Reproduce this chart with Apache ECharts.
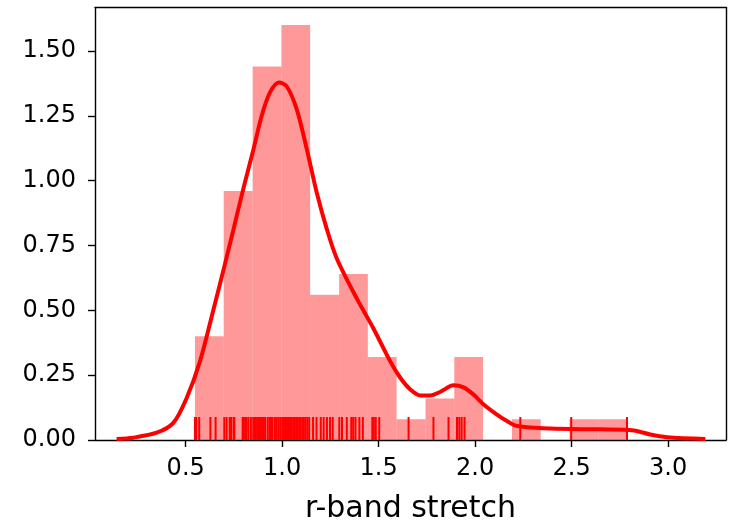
<!DOCTYPE html>
<html>
<head>
<meta charset="utf-8">
<script src="https://cdn.jsdelivr.net/npm/echarts@6/dist/echarts.min.js"></script>
<style>
html,body{margin:0;padding:0;background:#fff;overflow:hidden;}
#chart{width:732px;height:529px;}
</style>
</head>
<body>
<div id="chart"></div>
<script>
// Histogram bin edges (r-band stretch) and density heights
const binEdges = [0.548, 0.697, 0.847, 0.996, 1.145, 1.295, 1.444, 1.593, 1.743, 1.892, 2.041, 2.191, 2.340, 2.489, 2.639, 2.788];
const binDensity = [0.40, 0.96, 1.44, 1.60, 0.56, 0.64, 0.32, 0.08, 0.16, 0.32, 0.00, 0.08, 0.00, 0.08, 0.08];

// KDE curve: x values and density values
const kdeX = [0.142, 0.228, 0.350, 0.436, 0.505, 0.574, 0.643, 0.704, 0.747, 0.799, 0.851, 0.894, 0.937, 0.984, 1.024, 1.076, 1.128, 1.179, 1.231, 1.283, 1.387, 1.473, 1.560, 1.612, 1.664, 1.716, 1.768, 1.820, 1.888, 1.940, 1.992, 2.044, 2.113, 2.165, 2.217, 2.390, 2.649, 2.822, 2.908, 2.995, 3.193];
const kdeY = [0.004, 0.009, 0.028, 0.066, 0.162, 0.303, 0.500, 0.680, 0.810, 0.970, 1.120, 1.250, 1.340, 1.378, 1.363, 1.274, 1.120, 0.954, 0.814, 0.700, 0.545, 0.430, 0.303, 0.240, 0.195, 0.172, 0.172, 0.186, 0.211, 0.203, 0.175, 0.137, 0.098, 0.073, 0.054, 0.044, 0.041, 0.037, 0.021, 0.011, 0.004];

// Rug: individual observations
const rugValues = [
  0.548, 0.555, 0.570, 0.628, 0.655,
  0.700, 0.712, 0.728, 0.735, 0.748, 0.752, 0.795, 0.800, 0.808, 0.815, 0.825, 0.838,
  0.850, 0.856, 0.862, 0.870, 0.876, 0.884, 0.890, 0.897, 0.905, 0.912, 0.925, 0.935, 0.942, 0.950, 0.962, 0.970, 0.980, 0.990,
  1.000, 1.005, 1.012, 1.018, 1.024, 1.030, 1.036, 1.042, 1.050, 1.058, 1.066, 1.074, 1.080, 1.088, 1.095, 1.104, 1.112, 1.120, 1.130, 1.140,
  1.160, 1.178, 1.200, 1.215, 1.232, 1.248, 1.262,
  1.296, 1.310, 1.335, 1.358, 1.368, 1.380, 1.400, 1.418,
  1.467, 1.475, 1.485, 1.503,
  1.655,
  1.784, 1.862,
  1.906, 1.918, 1.930, 1.945,
  2.234,
  2.498,
  2.787
];

// Axis ticks
const xTicks = [0.5, 1.0, 1.5, 2.0, 2.5, 3.0];
const yTicks = [0, 0.25, 0.5, 0.75, 1.0, 1.25, 1.5];
const xLabel = 'r-band stretch';

const histData = binDensity.map((h, i) => [binEdges[i], binEdges[i + 1], h]);
const kdeData = kdeX.map((x, i) => [x, kdeY[i]]);
const rugData = rugValues.map(v => [v, 0]);

const FONT = 'DejaVu Sans';
const chart = echarts.init(document.getElementById('chart'), null, {renderer: 'canvas', width: 732, height: 529});

const axisLineStyle = {color: '#000', width: 1.4};
chart.setOption({
  animation: false,
  backgroundColor: '#fff',
  grid: {left: 95, top: 7.5, width: 631, height: 435, containLabel: false},
  xAxis: [{
    type: 'value', min: 0.03, max: 3.30,
    name: xLabel, nameLocation: 'middle', nameGap: 54,
    nameTextStyle: {fontFamily: FONT, fontSize: 30, color: '#000'},
    axisLine: {show: true, onZero: false, lineStyle: axisLineStyle},
    axisTick: {show: true, length: 7, inside: false, customValues: xTicks, lineStyle: {color: '#000', width: 1.4}},
    axisLabel: {customValues: xTicks, formatter: v => v.toFixed(1), fontFamily: FONT, fontSize: 24, color: '#000', margin: 17},
    splitLine: {show: false}
  }, {
    type: 'value', position: 'top', min: 0.03, max: 3.30,
    axisLine: {show: true, onZero: false, lineStyle: axisLineStyle},
    axisTick: {show: false}, axisLabel: {show: false}, splitLine: {show: false}
  }],
  yAxis: [{
    type: 'value', min: 0, max: 1.6675,
    axisLine: {show: true, onZero: false, lineStyle: axisLineStyle},
    axisTick: {show: true, length: 7, inside: false, customValues: yTicks, lineStyle: {color: '#000', width: 1.4}},
    axisLabel: {customValues: yTicks, formatter: v => v.toFixed(2), fontFamily: FONT, fontSize: 24, color: '#000', margin: 19},
    splitLine: {show: false}
  }, {
    type: 'value', position: 'right', min: 0, max: 1.6675,
    axisLine: {show: true, onZero: false, lineStyle: axisLineStyle},
    axisTick: {show: false}, axisLabel: {show: false}, splitLine: {show: false}
  }],
  series: [{
    type: 'custom',
    name: 'hist',
    xAxisIndex: 0, yAxisIndex: 0,
    data: histData,
    renderItem: function (params, api) {
      const p0 = api.coord([api.value(0), api.value(2)]);
      const p1 = api.coord([api.value(1), 0]);
      return {
        type: 'rect',
        shape: {x: p0[0], y: p0[1], width: p1[0] - p0[0], height: p1[1] - p0[1]},
        style: {fill: 'rgba(255,0,0,0.4)'}
      };
    },
    z: 1
  }, {
    type: 'line',
    name: 'kde',
    xAxisIndex: 0, yAxisIndex: 0,
    data: kdeData,
    smooth: 0.3,
    showSymbol: false,
    lineStyle: {color: '#ff0000', width: 4},
    z: 2
  }, {
    type: 'custom',
    name: 'rug',
    xAxisIndex: 0, yAxisIndex: 0,
    data: rugData,
    renderItem: function (params, api) {
      const p = api.coord([api.value(0), 0]);
      return {
        type: 'line',
        shape: {x1: p[0], y1: p[1], x2: p[0], y2: p[1] - 23},
        style: {stroke: '#ff0000', lineWidth: 2}
      };
    },
    z: 3
  }]
});
</script>
</body>
</html>
